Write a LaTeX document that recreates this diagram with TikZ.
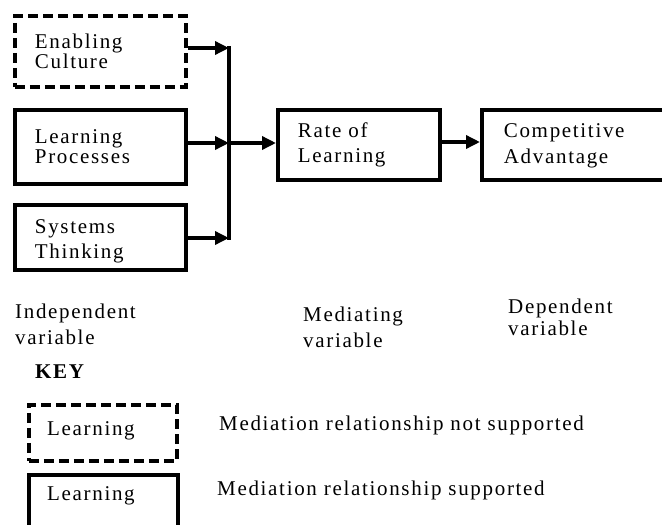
\documentclass[tikz,border=0pt]{standalone}
\usepackage{fontspec}
\setmainfont[LetterSpace=8]{Liberation Serif}
\usetikzlibrary{arrows.meta}
\tikzset{
  box/.style={draw, line width=3.8pt, anchor=north west, inner xsep=0pt, inner ysep=0pt, align=left, text width=#1},
  box/.default=120pt,
  dbox/.style={box=#1, dash pattern=on 10pt off 5pt},
  dbox/.default=120pt,
  lab/.style={anchor=base west, inner sep=0pt, align=left},
  arr/.style={line width=3.4pt, -{Triangle[length=14pt,width=13pt]}},
  bar/.style={line width=3.4pt},
}
\newcommand{\bx}{\fontsize{21}{20}\selectfont}
\newcommand{\bxw}{\fontsize{21}{25.5}\selectfont}
\newcommand{\ind}{\hspace*{20pt}}
\begin{document}
\begin{tikzpicture}[x=1pt,y=-1pt]
\clip (0,0) rectangle (662,525);
\fill[white] (0,0) rectangle (662,525);
% boxes
\node[dbox=171pt, minimum width=171pt, minimum height=71pt, font=\bx] (ec) at (13,14) {\ind Enabling\\\ind Culture};
\node[box=171pt, minimum width=171pt, minimum height=74pt, font=\bx] (lp) at (13,108) {\ind Learning\\\ind Processes};
\node[box=171pt, minimum width=171pt, minimum height=65pt, font=\bxw] (st) at (13,203) {\rule{0pt}{22pt}\ind Systems\\\ind Thinking};
\node[box=162pt, minimum width=162pt, minimum height=70pt, font=\bxw] (rol) at (276,108) {\ind Rate of\\\ind Learning};
\node[box=190pt, minimum width=190pt, minimum height=70pt, font=\bxw] (ca) at (480,108) {\rule{0pt}{16pt}\hspace*{22pt}Competitive\\\hspace*{22pt}Advantage};
% junction bar
\coordinate (bt) at (229,46);
\coordinate (bb) at (229,240);
\draw[bar] (bt) -- (bb);
\draw[arr] (ec.east |- 0,48) -- (bt |- 0,48);
\draw[arr] (lp.east |- 0,143) -- (bt |- 0,143);
\draw[arr] (st.east |- 0,238) -- (bt |- 0,238);
\draw[arr] (bt |- 0,143) -- (rol.west |- 0,143);
\draw[arr] (rol.east |- 0,142) -- (ca.west |- 0,142);
% variable labels (base = last line)
\node[lab, font=\fontsize{21}{26}\selectfont] (iv) at (15,344) {Independent\\variable};
\node[lab, font=\fontsize{21}{26}\selectfont] (mv) at (303,347) {Mediating\\variable};
\node[lab, font=\fontsize{21}{22}\selectfont] (dv) at (508,335) {Dependent\\variable};
% key
\node[lab, font=\fontsize{21}{22}\selectfont\bfseries] (key) at (35,378) {KEY};
\node[dbox=148pt, minimum width=148pt, minimum height=56pt] (k1) at (27,403) {};
\node[lab, font=\bx] (k1t) at (47,435) {Learning};
\node[box=149pt, minimum width=149pt, minimum height=80pt] (k2) at (27,473) {};
\node[lab, font=\bx] (k2t) at (47,500) {Learning};
\node[lab, font=\bx] (k1d) at (219,430) {Mediation relationship not supported};
\node[lab, font=\bx] (k2d) at (217,495) {Mediation relationship supported};
\end{tikzpicture}
\end{document}
